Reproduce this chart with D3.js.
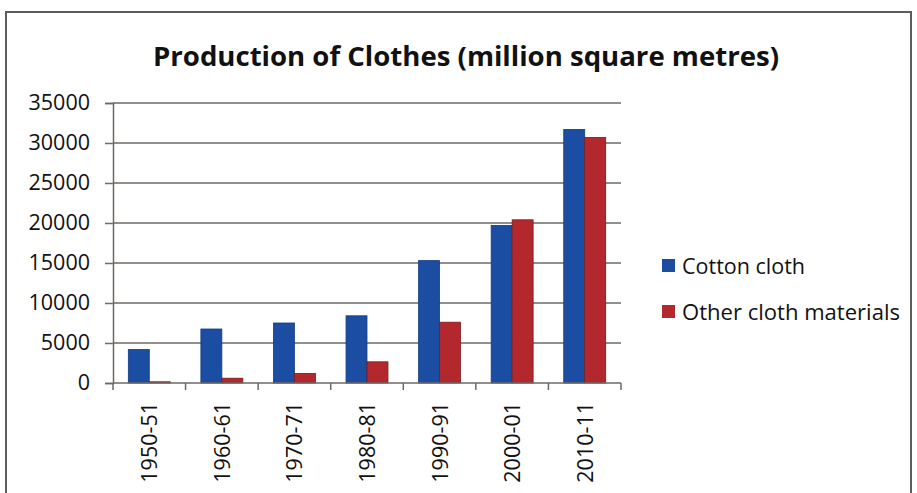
<!DOCTYPE html>
<html>
<head>
<meta charset="utf-8">
<script src="https://cdn.jsdelivr.net/npm/d3@7"></script>
<style>
  html, body { margin: 0; padding: 0; background: #fff; }
  svg { display: block; }
  text { font-family: "Open Sans", "DejaVu Sans", sans-serif; fill: #111; }
</style>
</head>
<body>
<svg id="chart" width="917" height="493"></svg>
<script>
// Production of clothes, million square metres
const periods = ["1950-51", "1960-61", "1970-71", "1980-81", "1990-91", "2000-01", "2010-11"];
const cottonCloth = [4200, 6750, 7500, 8400, 15300, 19700, 31700];
const otherCloth  = [150, 600, 1200, 2650, 7600, 20400, 30700];
const seriesNames = ["Cotton cloth", "Other cloth materials"];
const seriesColors = ["#1b4ea2", "#b3282c"];
const seriesStrokes = ["#143d80", "#7d1a1d"];
const yTicks = [0, 5000, 10000, 15000, 20000, 25000, 30000, 35000];

const svg = d3.select("#chart");
const plot = { left: 113, right: 621, top: 103, bottom: 383 };
const labelSize = 21.5;

// Outer chart frame
svg.append("rect")
  .attr("x", 6).attr("y", 12)
  .attr("width", 905).attr("height", 500)
  .attr("fill", "#fff")
  .attr("stroke", "#5a5f5a").attr("stroke-width", 2);

// Title
svg.append("text")
  .attr("x", 466).attr("y", 66)
  .attr("text-anchor", "middle")
  .attr("font-weight", "bold")
  .attr("font-size", 26)
  .attr("textLength", 626)
  .attr("lengthAdjust", "spacingAndGlyphs")
  .text("Production of Clothes (million square metres)");

const x0 = d3.scaleBand().domain(periods).range([plot.left, plot.right]).paddingInner(0).paddingOuter(0);
const x1 = d3.scaleBand().domain(seriesNames).range([0, x0.bandwidth()]).paddingInner(0).paddingOuter(0.73);
const y = d3.scaleLinear().domain([0, 35000]).range([plot.bottom, plot.top]);

// Horizontal gridlines
svg.append("g")
  .selectAll("line")
  .data(yTicks.filter(d => d > 0))
  .join("line")
  .attr("x1", plot.left).attr("x2", plot.right)
  .attr("y1", d => y(d)).attr("y2", d => y(d))
  .attr("stroke", "#6e6864").attr("stroke-width", 1.5);

// Y axis
const yAxis = svg.append("g")
  .attr("transform", `translate(${plot.left},0)`)
  .call(d3.axisLeft(y).tickValues(yTicks).tickSize(8).tickPadding(15).tickFormat(d3.format("d")));
yAxis.select(".domain").attr("stroke", "#6e6864").attr("stroke-width", 1.5);
yAxis.selectAll(".tick line").attr("stroke", "#6e6864").attr("stroke-width", 1.5);
yAxis.selectAll(".tick text")
  .attr("font-size", labelSize)
  .attr("fill", "#111")
  .style("font-family", "'Open Sans', sans-serif");

// Bars
const data = periods.map((p, i) => ({ period: p, values: [cottonCloth[i], otherCloth[i]] }));
const groups = svg.append("g")
  .selectAll("g")
  .data(data)
  .join("g")
  .attr("transform", d => `translate(${x0(d.period)},0)`);
groups.selectAll("rect")
  .data(d => d.values.map((v, k) => ({ name: seriesNames[k], value: v, k })))
  .join("rect")
  .attr("x", d => x1(d.name))
  .attr("y", d => y(d.value))
  .attr("width", x1.bandwidth())
  .attr("height", d => y(0) - y(d.value))
  .attr("fill", d => seriesColors[d.k])
  .attr("stroke", d => seriesStrokes[d.k])
  .attr("stroke-width", 0.8);

// X axis with ticks at category boundaries
const xAxisG = svg.append("g").attr("transform", `translate(0,${plot.bottom})`);
xAxisG.append("line")
  .attr("x1", plot.left).attr("x2", plot.right)
  .attr("stroke", "#6e6864").attr("stroke-width", 1.5);
const boundaries = periods.map(p => x0(p)).concat([plot.right]);
xAxisG.selectAll("line.tick")
  .data(boundaries)
  .join("line")
  .attr("class", "tick")
  .attr("x1", d => d).attr("x2", d => d)
  .attr("y1", 0).attr("y2", 7)
  .attr("stroke", "#6e6864").attr("stroke-width", 1.5);
xAxisG.selectAll("text")
  .data(periods)
  .join("text")
  .attr("transform", d => `translate(${x0(d) + x0.bandwidth() / 2 + 8},19) rotate(-90)`)
  .attr("text-anchor", "end")
  .attr("font-size", labelSize)
  .text(d => d);

// Legend
const legend = svg.append("g");
seriesNames.forEach((name, k) => {
  const ly = 266 + k * 46;
  legend.append("rect")
    .attr("x", 662).attr("y", ly - 7)
    .attr("width", 13).attr("height", 13)
    .attr("fill", seriesColors[k]);
  legend.append("text")
    .attr("x", 682).attr("y", ly + 8)
    .attr("font-size", labelSize)
    .attr("textLength", 218)
    .attr("lengthAdjust", k === 1 ? "spacingAndGlyphs" : null)
    .text(name);
});
// Only the longer legend entry is fitted to width; remove the attribute from the short one
legend.selectAll("text").filter((d, i) => i === 0).attr("textLength", null);
</script>
</body>
</html>
